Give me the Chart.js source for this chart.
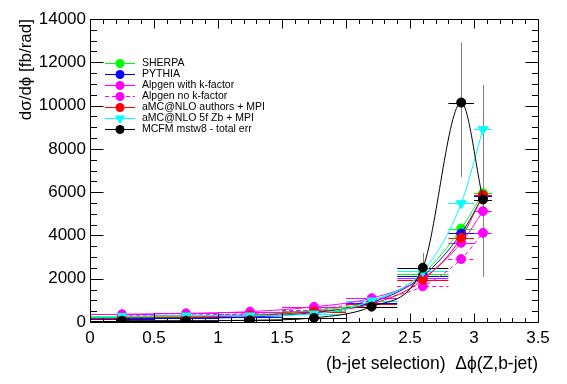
<!DOCTYPE html>
<html><head><meta charset="utf-8">
<script src="https://cdn.jsdelivr.net/npm/chart.js@4.4.1/dist/chart.umd.min.js"></script>
<style>html,body{margin:0;padding:0;background:#fff;}</style>
</head><body>
<canvas id="c" width="567" height="384"></canvas>
<script>
// ---------- data ----------
const binCenters = [0.25, 0.75, 1.25, 1.75, 2.2, 2.6, 2.9, 3.07];
const binLow     = [0.0, 0.5, 1.0, 1.5, 2.0, 2.4, 2.8, 3.0];
const binHigh    = [0.5, 1.0, 1.5, 2.0, 2.4, 2.8, 3.0, 3.14];

const sherpa     = [230, 260, 320, 530, 960, 2230, 4320, 5950];
const pythia     = [150, 170, 230, 440, 900, 2120, 4090, 5800];
const alpgenK    = [360, 400, 480, 700, 1100, 2020, 3660, 5120];
const alpgenNoK  = [290, 320, 390, 570, 990, 1650, 2910, 4120];
const amcAuthors = [190, 220, 300, 480, 830, 1950, 3890, 5870];
const amc5f      = [270, 290, 290, 380, 980, 2350, 5480, 8900];
const mcfm       = [60, 60, 80, 190, 710, 2510, 10140, 5660];
const mcfmErrUp   = [20, 20, 30, 60, 150, 680, 2780, 5300];
const mcfmErrDown = [20, 20, 30, 60, 150, 680, 3440, 3570];

const seriesLabels = ["SHERPA", "PYTHIA", "Alpgen with k-factor", "Alpgen no k-factor",
  "aMC@NLO authors + MPI", "aMC@NLO 5f Zb + MPI", "MCFM mstw8 - total err"];
const xTickValues = [0, 0.5, 1, 1.5, 2, 2.5, 3, 3.5];
const yTickValues = [0, 2000, 4000, 6000, 8000, 10000, 12000, 14000];
const xTitle = "(b-jet selection)  \u0394\u03D5(Z,b-jet)";
const yTitle = "d\u03C3/d\u03D5 [fb/rad]";

// ---------- chart ----------
const FONT = "'Liberation Sans', Arial, Helvetica, sans-serif";
const styles = [
  {c:'#00ff00', dash:[], ps:'circle', r:4.5},
  {c:'#0000ff', dash:[], ps:'circle', r:4.5},
  {c:'#ff00ff', dash:[], ps:'circle', r:4.5},
  {c:'#ff00ff', dash:[4,3], ps:'circle', r:4.5},
  {c:'#ff0000', dash:[], ps:'circle', r:4.5},
  {c:'#00ffff', dash:[], ps:'triangle', r:5.5},
  {c:'#000000', dash:[], ps:'circle', r:4.5}
];
const seriesValues = [sherpa, pythia, alpgenK, alpgenNoK, amcAuthors, amc5f, mcfm];

const datasets = seriesValues.map((vals, k) => ({
  label: seriesLabels[k],
  data: binCenters.map((x, i) => ({x: x, y: vals[i]})),
  borderColor: styles[k].c,
  backgroundColor: styles[k].c,
  borderWidth: 1,
  borderDash: styles[k].dash,
  pointStyle: styles[k].ps,
  pointRotation: styles[k].ps === 'triangle' ? 180 : 0,
  pointRadius: styles[k].r,
  pointBorderWidth: 1,
  cubicInterpolationMode: 'monotone',
  fill: false,
  order: 6 - k
}));

function drawMarker(ctx, style, x, y, r, color) {
  ctx.save();
  ctx.fillStyle = color; ctx.strokeStyle = color; ctx.setLineDash([]);
  ctx.beginPath();
  if (style === 'triangle') {
    ctx.moveTo(x - r * 0.95, y - r * 0.55);
    ctx.lineTo(x + r * 0.95, y - r * 0.55);
    ctx.lineTo(x, y + r * 1.05);
    ctx.closePath();
  } else {
    ctx.arc(x, y, r, 0, Math.PI * 2);
  }
  ctx.fill();
  ctx.restore();
}

const rootStyle = {
  id: 'rootStyle',
  beforeDatasetsDraw(chart) {
    const ctx = chart.ctx, xs = chart.scales.x, ys = chart.scales.y, a = chart.chartArea;
    ctx.save();
    ctx.beginPath(); ctx.rect(a.left, a.top, a.right - a.left, a.bottom - a.top); ctx.clip();
    // horizontal (bin width) error bars
    chart.data.datasets.forEach((ds, k) => {
      ctx.strokeStyle = ds.borderColor; ctx.lineWidth = 1;
      ctx.setLineDash(ds.borderDash || []);
      ds.data.forEach((p, i) => {
        const y = Math.round(ys.getPixelForValue(p.y)) + 0.5;
        ctx.beginPath();
        ctx.moveTo(xs.getPixelForValue(binLow[i]), y);
        ctx.lineTo(xs.getPixelForValue(binHigh[i]), y);
        ctx.stroke();
      });
    });
    // vertical total-error bars of MCFM
    ctx.setLineDash([]); ctx.strokeStyle = '#808080';
    mcfm.forEach((v, i) => {
      const x = Math.round(xs.getPixelForValue(binCenters[i])) + 0.5;
      ctx.beginPath();
      ctx.moveTo(x, ys.getPixelForValue(v + mcfmErrUp[i]));
      ctx.lineTo(x, ys.getPixelForValue(v - mcfmErrDown[i]));
      ctx.stroke();
    });
    ctx.restore();
  },
  afterDatasetsDraw(chart) {
    const ctx = chart.ctx, xs = chart.scales.x, ys = chart.scales.y, a = chart.chartArea;
    ctx.save();
    ctx.strokeStyle = '#000'; ctx.lineWidth = 1; ctx.setLineDash([]);
    const L = Math.round(a.left) + 0.5, R = Math.round(a.right) + 0.5;
    const T = Math.round(a.top) + 0.5, B = Math.round(a.bottom) + 0.5;
    ctx.strokeRect(L, T, R - L, B - T);
    // x ticks (bottom and top), minor every 0.1
    for (let i = 0; i <= 35; i++) {
      const x = Math.round(xs.getPixelForValue(i * 0.1)) + 0.5;
      const len = (i % 5 === 0) ? 9 : 4.5;
      ctx.beginPath();
      ctx.moveTo(x, B); ctx.lineTo(x, B - len);
      ctx.moveTo(x, T); ctx.lineTo(x, T + len);
      ctx.stroke();
    }
    // y ticks (left and right), minor every 500
    for (let i = 0; i <= 28; i++) {
      const y = Math.round(ys.getPixelForValue(i * 500)) + 0.5;
      const len = (i % 4 === 0) ? 13 : 6.5;
      ctx.beginPath();
      ctx.moveTo(L, y); ctx.lineTo(L + len, y);
      ctx.moveTo(R, y); ctx.lineTo(R - len, y);
      ctx.stroke();
    }
    // legend
    ctx.font = '10.5px ' + FONT;
    ctx.textBaseline = 'middle'; ctx.textAlign = 'left';
    chart.data.datasets.forEach((ds, k) => {
      const y = 63 + k * 11 + 0.5;
      ctx.strokeStyle = ds.borderColor; ctx.lineWidth = 1;
      ctx.setLineDash(ds.borderDash || []);
      ctx.beginPath(); ctx.moveTo(105, y); ctx.lineTo(135, y); ctx.stroke();
      drawMarker(ctx, ds.pointStyle, 120, y, ds.pointRadius, ds.borderColor);
      ctx.fillStyle = '#000';
      ctx.fillText(ds.label, 142, y);
    });
    ctx.restore();
  }
};

new Chart(document.getElementById('c'), {
  type: 'line',
  data: { datasets: datasets },
  options: {
    responsive: false,
    animation: false,
    devicePixelRatio: 1,
    layout: { padding: { top: 19, right: 29, left: 0, bottom: 0 } },
    plugins: { legend: { display: false }, tooltip: { enabled: false } },
    scales: {
      x: {
        type: 'linear', min: 0, max: 3.5,
        afterBuildTicks: s => { s.ticks = xTickValues.map(v => ({value: v})); },
        afterFit: s => { s.height = 62; },
        grid: { display: false, drawTicks: false },
        border: { display: false },
        ticks: { padding: 6, color: '#000', font: { family: FONT, size: 17 }, maxRotation: 0,
                 callback: v => String(v) },
        title: { display: true, text: xTitle, align: 'end', color: '#000',
                 font: { family: FONT, size: 17.5 }, padding: { top: 0, bottom: 9 } }
      },
      y: {
        type: 'linear', min: 0, max: 14000,
        afterBuildTicks: s => { s.ticks = yTickValues.map(v => ({value: v})); },
        afterFit: s => { s.width = 90; },
        grid: { display: false, drawTicks: false },
        border: { display: false },
        ticks: { padding: 4, color: '#000', font: { family: FONT, size: 17 },
                 callback: v => String(v) },
        title: { display: true, text: yTitle, align: 'end', color: '#000',
                 font: { family: FONT, size: 17 }, padding: { top: 16, bottom: 0 } }
      }
    }
  },
  plugins: [rootStyle]
});
</script>
</body></html>
